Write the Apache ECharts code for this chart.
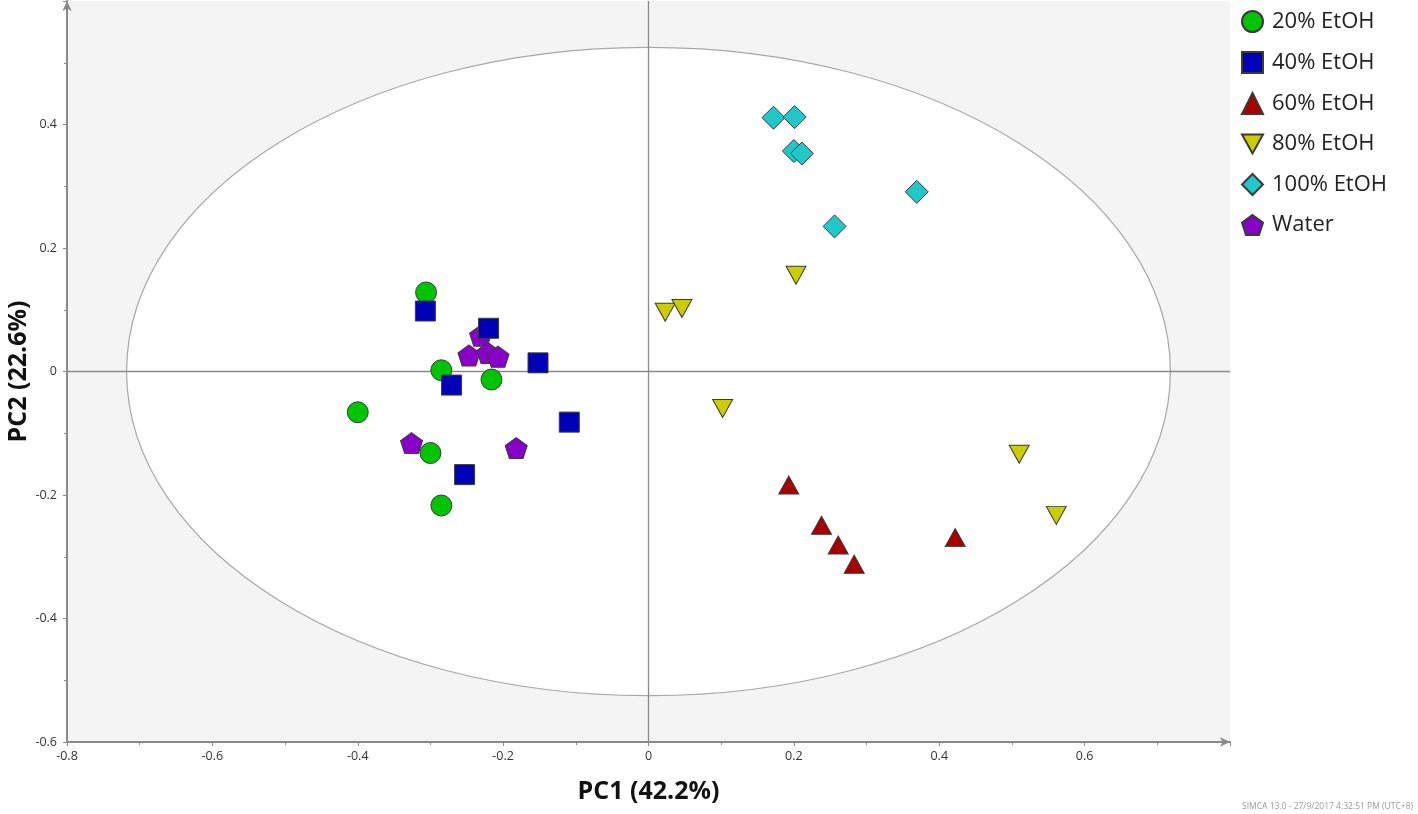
<!DOCTYPE html>
<html>
<head>
<meta charset="utf-8">
<script src="https://cdn.jsdelivr.net/npm/echarts@6/dist/echarts.min.js"></script>
<style>
html,body{margin:0;padding:0;background:#fff;}
#chart{width:1418px;height:814px;}
</style>
</head>
<body>
<div id="chart"></div>
<script>
// ---- data (PC1, PC2 scores) ----
const seriesNames = ['20% EtOH', '40% EtOH', '60% EtOH', '80% EtOH', '100% EtOH', 'Water'];
const etoh20 = [[-0.306, 0.128], [-0.285, 0.002], [-0.216, -0.013], [-0.400, -0.066], [-0.300, -0.132], [-0.285, -0.217]];
const etoh40 = [[-0.307, 0.098], [-0.220, 0.070], [-0.152, 0.014], [-0.271, -0.022], [-0.109, -0.082], [-0.253, -0.167]];
const etoh60 = [[0.193, -0.184], [0.238, -0.249], [0.261, -0.281], [0.283, -0.312], [0.422, -0.269]];
const etoh80 = [[0.023, 0.096], [0.046, 0.102], [0.203, 0.156], [0.102, -0.060], [0.510, -0.134], [0.561, -0.233]];
const etoh100 = [[0.172, 0.411], [0.201, 0.412], [0.200, 0.357], [0.211, 0.353], [0.369, 0.291], [0.256, 0.235]];
const water = [[-0.231, 0.058], [-0.247, 0.026], [-0.221, 0.030], [-0.207, 0.024], [-0.326, -0.116], [-0.182, -0.124]];
// Hotelling T2 ellipse semi-axes (PC1, PC2)
const ellipseRadii = [0.718, 0.525];
const xAxisRange = [-0.8, 0.8];
const yAxisRange = [-0.6, 0.6];
const axisNames = ['PC1 (42.2%)', 'PC2 (22.6%)'];
const footnote = 'SIMCA 13.0 - 27/9/2017 4:32:51 PM (UTC+8)';

const pentagon = 'path://M0,-10 L9.51,-3.09 L5.88,8.09 L-5.88,8.09 L-9.51,-3.09 Z';
const downTriangle = 'path://M0,0 L20,0 L10,18 Z';
const font = '"Open Sans", "Noto Sans", sans-serif';

function sc(name, data, color, symbol, size, rotate) {
  return {
    name: name, type: 'scatter', data: data, symbol: symbol, symbolSize: size,
    symbolRotate: rotate || 0, z: 5,
    itemStyle: { color: color, borderColor: '#3a3a3a', borderWidth: 1, opacity: 1 },
    emphasis: { disabled: true }
  };
}

const chart = echarts.init(document.getElementById('chart'), null, { renderer: 'canvas' });
const axisCommon = {
  type: 'value', interval: 0.2,
  axisLine: { show: true, onZero: false, lineStyle: { color: '#8a8a8a', width: 2 }, symbol: ['none', 'arrow'], symbolSize: [7, 10] },
  axisTick: { show: true, length: 4, lineStyle: { color: '#8a8a8a' } },
  minorTick: { show: true, splitNumber: 2, length: 3, lineStyle: { color: '#8a8a8a' } },
  splitLine: { show: false },
  axisLabel: { color: '#333', fontSize: 12.5, fontFamily: font, showMaxLabel: false },
  nameLocation: 'middle',
  nameMoveOverlap: false,
  nameTextStyle: { color: '#111', fontSize: 25, fontWeight: 'bold', fontFamily: font }
};

chart.setOption({
  animation: false,
  backgroundColor: '#ffffff',
  grid: { left: 67, right: 188, top: 1, bottom: 72, show: true, backgroundColor: '#f4f4f4', borderWidth: 0,
    containLabel: false, outerBoundsMode: 'none' },
  xAxis: Object.assign({}, axisCommon, { min: xAxisRange[0], max: xAxisRange[1], name: axisNames[0], nameGap: 37,
    axisLabel: Object.assign({}, axisCommon.axisLabel, { margin: 8 }) }),
  yAxis: Object.assign({}, axisCommon, { min: yAxisRange[0], max: yAxisRange[1], name: axisNames[1], nameGap: 36,
    axisLabel: Object.assign({}, axisCommon.axisLabel, { margin: 10 }) }),
  legend: {
    orient: 'vertical', left: 1236, top: 5, itemWidth: 21, itemHeight: 21, itemGap: 18,
    data: [
      { name: seriesNames[0] }, { name: seriesNames[1] }, { name: seriesNames[2] },
      { name: seriesNames[3], icon: downTriangle }, { name: seriesNames[4] }, { name: seriesNames[5] }
    ],
    textStyle: { color: '#222', fontSize: 22, fontFamily: font, padding: [0, 0, 0, 4] },
    selectedMode: false
  },
  graphic: [{
    type: 'text', right: 5, bottom: 3,
    style: { text: footnote, fill: '#9a9a9a', fontSize: 8.5, fontFamily: font }
  }],
  series: [
    {
      type: 'custom', name: 'ellipse', silent: true, z: 1,
      data: [ellipseRadii],
      renderItem: function (params, api) {
        const c = api.coord([0, 0]);
        const rx = api.size([api.value(0), 0])[0];
        const ry = api.size([0, api.value(1)])[1];
        return { type: 'ellipse', shape: { cx: c[0], cy: c[1], rx: rx, ry: ry },
          style: { fill: '#ffffff', stroke: '#a8a8a8', lineWidth: 1.2 } };
      }
    },
    {
      type: 'scatter', name: 'axes0', data: [], silent: true, z: 2,
      markLine: {
        silent: true, symbol: 'none', animation: false,
        label: { show: false },
        lineStyle: { color: '#8a8a8a', width: 1.3, type: 'solid' },
        emphasis: { disabled: true },
        data: [{ xAxis: 0 }, { yAxis: 0 }]
      }
    },
    sc('Water', water, '#8800c8', pentagon, [22, 21]),
    sc('20% EtOH', etoh20, '#00c400', 'circle', 21),
    sc('40% EtOH', etoh40, '#0000b8', 'rect', 20),
    sc('60% EtOH', etoh60, '#a80000', 'triangle', [20, 18]),
    sc('80% EtOH', etoh80, '#cccc00', 'triangle', [20, 18], 180),
    sc('100% EtOH', etoh100, '#22c8c8', 'diamond', [23, 23])
  ]
});
</script>
</body>
</html>
